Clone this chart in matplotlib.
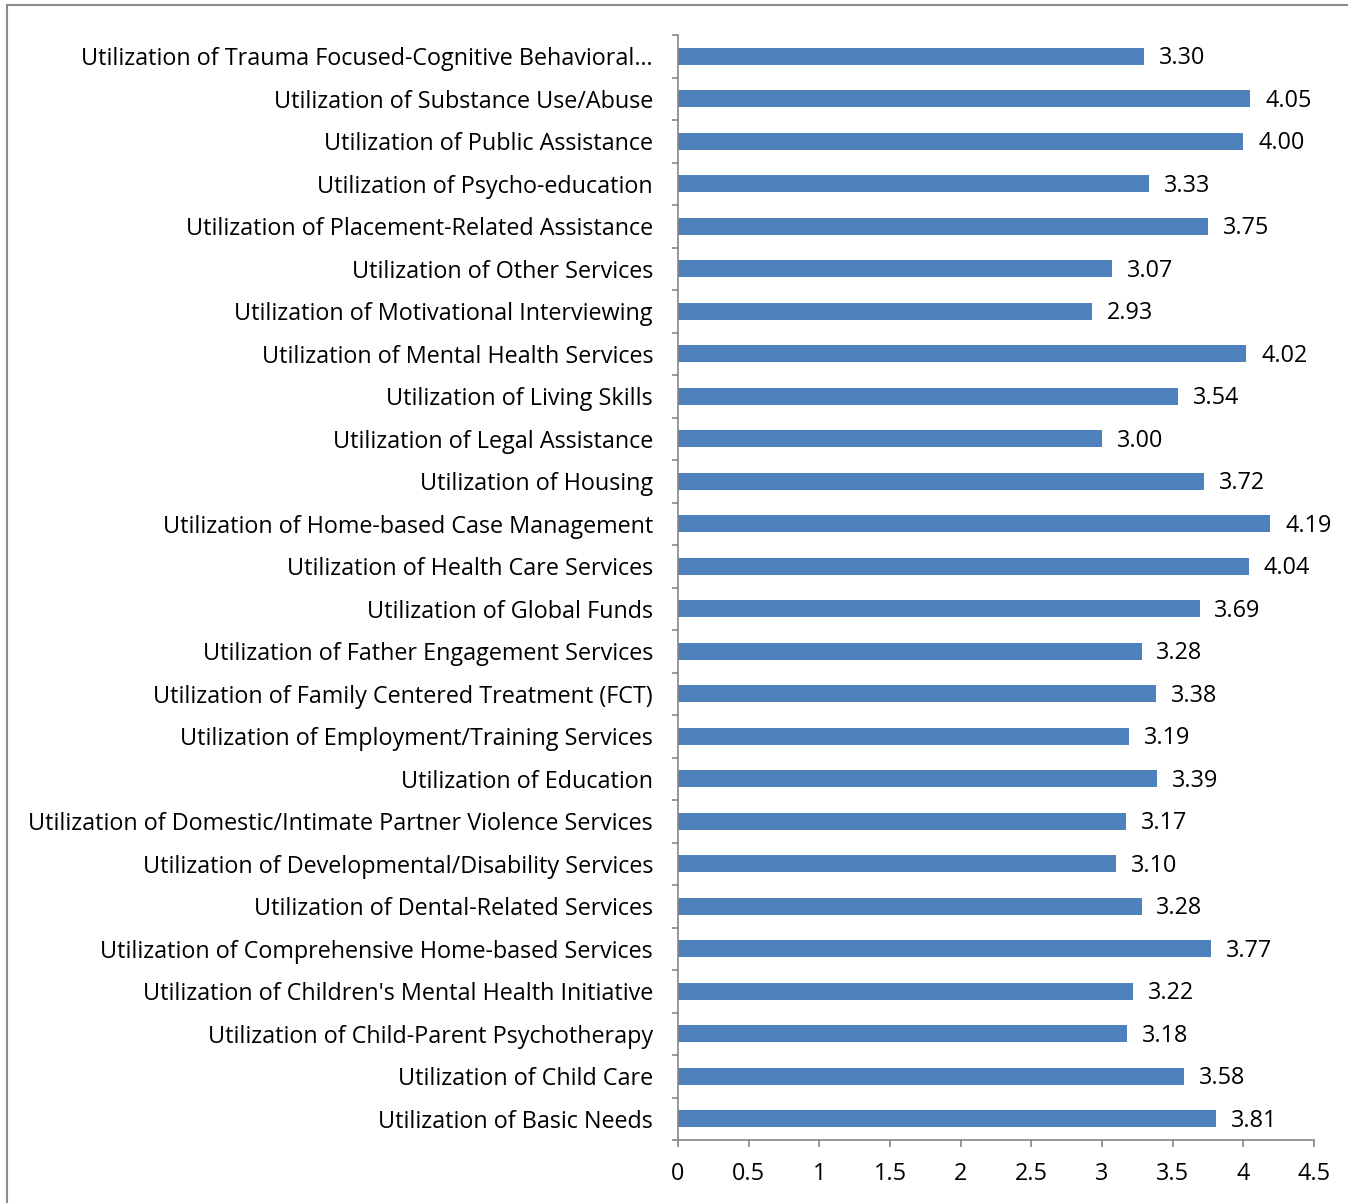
import matplotlib.pyplot as plt
from matplotlib.patches import Rectangle

labels = [
    "Utilization of Trauma Focused-Cognitive Behavioral…",
    "Utilization of Substance Use/Abuse",
    "Utilization of Public Assistance",
    "Utilization of Psycho-education",
    "Utilization of Placement-Related Assistance",
    "Utilization of Other Services",
    "Utilization of Motivational Interviewing",
    "Utilization of Mental Health Services",
    "Utilization of Living Skills",
    "Utilization of Legal Assistance",
    "Utilization of Housing",
    "Utilization of Home-based Case Management",
    "Utilization of Health Care Services",
    "Utilization of Global Funds",
    "Utilization of Father Engagement Services",
    "Utilization of Family Centered Treatment (FCT)",
    "Utilization of Employment/Training Services",
    "Utilization of Education",
    "Utilization of Domestic/Intimate Partner Violence Services",
    "Utilization of Developmental/Disability Services",
    "Utilization of Dental-Related Services",
    "Utilization of Comprehensive Home-based Services",
    "Utilization of Children's Mental Health Initiative",
    "Utilization of Child-Parent Psychotherapy",
    "Utilization of Child Care",
    "Utilization of Basic Needs",
]
values = [3.30, 4.05, 4.00, 3.33, 3.75, 3.07, 2.93, 4.02, 3.54, 3.00, 3.72, 4.19, 4.04,
          3.69, 3.28, 3.38, 3.19, 3.39, 3.17, 3.10, 3.28, 3.77, 3.22, 3.18, 3.58, 3.81]
xticks = [0, 0.5, 1, 1.5, 2, 2.5, 3, 3.5, 4, 4.5]

plt.rcParams['font.family'] = ['Open Sans', 'DejaVu Sans']
axis_grey = '#868686'
fs = 16.8

fig = plt.figure(figsize=(13.48, 12.03), dpi=100)
ax = fig.add_axes([678 / 1348, 1 - 1140 / 1203, 636 / 1348, 1105 / 1203])

n = len(labels)
ypos = [n - 1 - i for i in range(n)]
ax.barh(ypos, values, height=0.4, color='#4F81BD')
for y, v in zip(ypos, values):
    ax.text(v + 0.105, y - 0.05, '%.2f' % v, va='center', ha='left', fontsize=fs)

ax.set_xlim(0, 4.5)
ax.set_ylim(-0.5, n - 0.5)
ax.set_xticks(xticks)
ax.set_xticklabels([('%g' % t) for t in xticks], fontsize=fs)
ax.set_yticks(ypos)
ax.set_yticklabels(labels, fontsize=fs)
ax.set_yticks([k - 0.5 for k in range(n + 1)], minor=True)
ax.tick_params(axis='y', which='major', length=0, pad=18)
ax.tick_params(axis='y', which='minor', length=4, color=axis_grey, width=1.2)
ax.tick_params(axis='x', length=5, color=axis_grey, width=1.2, pad=11)

for s in ['top', 'right']:
    ax.spines[s].set_visible(False)
for s in ['left', 'bottom']:
    ax.spines[s].set_color(axis_grey)
    ax.spines[s].set_linewidth(1.2)

# outer chart border (cut off at right and bottom in the original)
fig.patches.append(Rectangle((7 / 1348, -0.1), 1.2, 1 - 5 / 1203 + 0.1,
                             transform=fig.transFigure, fill=False,
                             edgecolor='#8c8c8c', linewidth=1.5))

fig.savefig('out.png', dpi=100)
